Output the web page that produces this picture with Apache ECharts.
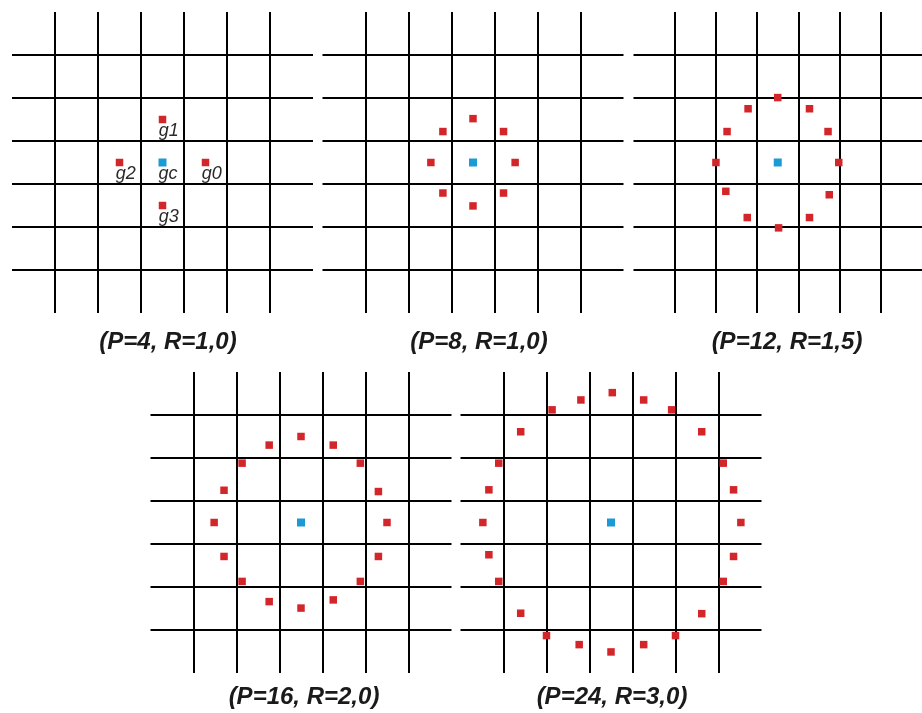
<!DOCTYPE html>
<html>
<head>
<meta charset="utf-8">
<script src="https://cdn.jsdelivr.net/npm/echarts@6/dist/echarts.min.js"></script>
<style>
  html, body { margin: 0; padding: 0; background: #fff; }
  #chart { width: 922px; height: 713px; }
</style>
</head>
<body>
<div id="chart"></div>
<script>
// 网格线位置（单位：像素格）
const gridLines = [-2.5, -1.5, -0.5, 0.5, 1.5, 2.5];

// 各子图标题
const panelTitles = ['(P=4, R=1,0)', '(P=8, R=1,0)', '(P=12, R=1,5)', '(P=16, R=2,0)', '(P=24, R=3,0)'];

// 中心点 gc
const centerPoint = [0, 0];

// 邻域采样点（相对中心，单位为格）
const neighborsP4 = [[1, 0], [0, 1], [-1, 0], [0, -1]];
const labelsP4 = ['g0', 'g1', 'g2', 'g3'];

const neighborsP8 = [
  [0.98, 0], [0.71, 0.72], [0, 1.02], [-0.7, 0.72],
  [-0.98, 0], [-0.7, -0.71], [0, -1.01], [0.71, -0.71]
];

const neighborsP12 = [
  [1.48, 0], [1.22, 0.72], [0.77, 1.25], [0, 1.51],
  [-0.72, 1.25], [-1.23, 0.72], [-1.5, 0], [-1.26, -0.67],
  [-0.74, -1.28], [0.02, -1.52], [0.77, -1.28], [1.25, -0.75]
];

const neighborsP16 = [
  [2.0, 0], [1.8, 0.72], [1.38, 1.38], [0.75, 1.8],
  [0, 2.0], [-0.74, 1.8], [-1.37, 1.38], [-1.79, 0.75],
  [-2.02, 0], [-1.79, -0.79], [-1.37, -1.37], [-0.74, -1.84],
  [0, -1.99], [0.75, -1.8], [1.38, -1.37], [1.8, -0.79]
];

const neighborsP24 = [
  [3.02, 0], [2.85, 0.76], [2.61, 1.38], [2.11, 2.11],
  [1.41, 2.62], [0.76, 2.85], [0.03, 3.02], [-0.7, 2.85],
  [-1.37, 2.62], [-2.1, 2.11], [-2.61, 1.38], [-2.84, 0.76],
  [-2.98, 0], [-2.84, -0.75], [-2.61, -1.37], [-2.1, -2.11],
  [-1.5, -2.63], [-0.74, -2.84], [0, -3.01], [0.76, -2.84],
  [1.5, -2.63], [2.11, -2.12], [2.61, -1.37], [2.85, -0.79]
];

const panelPoints = [neighborsP4, neighborsP8, neighborsP12, neighborsP16, neighborsP24];

// 子图位置（左上角）与标题位置
const panelBoxes = [
  { left: 12, top: 12, titleX: 163, titleY: 325 },
  { left: 322.5, top: 12, titleX: 474, titleY: 325 },
  { left: 633.5, top: 12, titleX: 782, titleY: 325 },
  { left: 150.5, top: 372, titleX: 299, titleY: 680 },
  { left: 460.5, top: 372, titleX: 607, titleY: 680 }
];
const panelSize = 301;

const RED = '#d3262b';
const BLUE = '#1b9ad6';
const FONT = '"Liberation Sans", Arial, sans-serif';

const chart = echarts.init(document.getElementById('chart'), null, { renderer: 'canvas' });

const grids = [];
const xAxes = [];
const yAxes = [];
const series = [];
const titles = [];

const pointLabel = {
  position: [0, 6],
  align: 'left',
  verticalAlign: 'top',
  fontFamily: FONT,
  fontStyle: 'italic',
  fontSize: 18,
  color: '#2a2a2a'
};

panelBoxes.forEach((box, i) => {
  grids.push({ left: box.left, top: box.top, width: panelSize, height: panelSize });

  const axisBase = {
    type: 'value',
    gridIndex: i,
    min: -3.5,
    max: 3.5,
    axisLine: { show: false },
    axisTick: { show: false },
    axisLabel: { show: false },
    splitLine: { show: false }
  };
  xAxes.push(Object.assign({}, axisBase));
  yAxes.push(Object.assign({}, axisBase));

  // 网格线
  series.push({
    type: 'scatter',
    xAxisIndex: i,
    yAxisIndex: i,
    data: [],
    silent: true,
    z: 1,
    markLine: {
      silent: true,
      symbol: ['none', 'none'],
      label: { show: false },
      animation: false,
      lineStyle: { color: '#000', width: 2, type: 'solid' },
      data: gridLines.map(v => ({ xAxis: v })).concat(gridLines.map(v => ({ yAxis: v })))
    }
  });

  const isFirst = i === 0;

  // 邻域点
  series.push({
    type: 'scatter',
    xAxisIndex: i,
    yAxisIndex: i,
    symbol: 'rect',
    symbolSize: 7.5,
    z: 5,
    itemStyle: { color: RED, opacity: 1 },
    label: Object.assign({ show: isFirst, formatter: p => labelsP4[p.dataIndex] }, pointLabel),
    data: panelPoints[i]
  });

  // 中心点
  series.push({
    type: 'scatter',
    xAxisIndex: i,
    yAxisIndex: i,
    symbol: 'rect',
    symbolSize: 8,
    z: 5,
    itemStyle: { color: BLUE, opacity: 1 },
    label: Object.assign({ show: isFirst, formatter: 'gc' }, pointLabel),
    data: [centerPoint]
  });

  titles.push({
    text: panelTitles[i],
    left: box.titleX,
    top: box.titleY,
    textAlign: 'center',
    textStyle: {
      fontFamily: FONT,
      fontStyle: 'italic',
      fontWeight: 'bold',
      fontSize: 24,
      color: '#1a1a1a'
    }
  });
});

const option = {
  animation: false,
  backgroundColor: '#fff',
  title: titles,
  grid: grids,
  xAxis: xAxes,
  yAxis: yAxes,
  series: series
};

chart.setOption(option);
</script>
</body>
</html>
